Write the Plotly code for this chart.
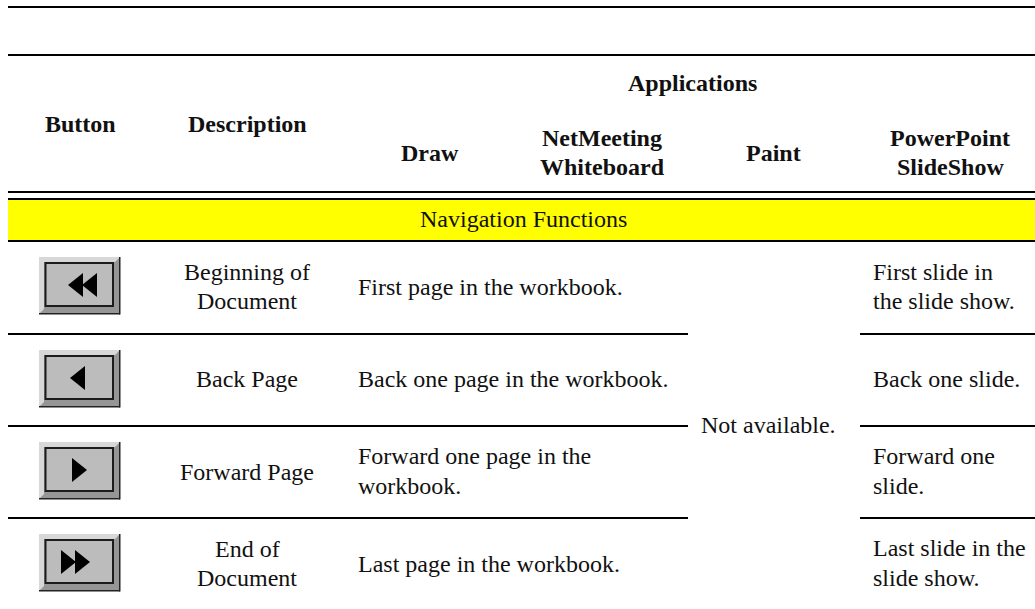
import plotly.graph_objects as go

W, H = 1035, 609
FONT = "Liberation Serif"
SIZE = 24

# Header and body text: (text, x, y, anchor)
header_labels = [
    ("Applications", 692, 83, "center"), ("Button", 80, 124, "center"), ("Description", 247, 124, "center"),
    ("Draw", 430, 153, "center"), ("NetMeeting", 602, 138, "center"), ("Whiteboard", 602, 167, "center"),
    ("Paint", 773, 153, "center"), ("PowerPoint", 950, 138, "center"), ("SlideShow", 950, 167, "center"),
]
section_label = ("Navigation Functions", 523, 219, "center")
description_labels = [
    ("Beginning of", 247, 272), ("Document", 247, 301), ("Back Page", 247, 379),
    ("Forward Page", 247, 472), ("End of", 247, 549), ("Document", 247, 578),
]
body_labels = [
    ("First page in the workbook.", 356, 287), ("Back one page in the workbook.", 356, 379),
    ("Forward one page in the", 356, 456), ("workbook.", 356, 486), ("Last page in the workbook.", 356, 564),
    ("Not available.", 699, 425),
    ("First slide in", 871, 272), ("the slide show.", 871, 301), ("Back one slide.", 871, 379),
    ("Forward one", 871, 456), ("slide.", 871, 486), ("Last slide in the", 871, 548), ("slide show.", 871, 578),
]

# Rule lines: (x0, x1, y, width)
full_rules = [(8, 1035, 7, 2), (8, 1035, 55, 2), (8, 1035, 192, 2), (8, 1035, 199, 2), (8, 1035, 241, 2)]
split_rules = [(8, 688, 334), (860, 1035, 334), (8, 688, 426), (860, 1035, 426), (8, 688, 518), (860, 1035, 518)]
band = (8, 1035, 200, 241)

# Buttons: top y of each, and direction/count of arrow heads
button_tops = [257, 350, 442, 534]
button_arrows = [(-1, 2), (-1, 1), (1, 1), (1, 2)]

fig = go.Figure()
shapes, anns = [], []


def rect(x0, y0, x1, y1, fill, line=None, lw=0):
    shapes.append(dict(type="rect", x0=x0, x1=x1, y0=y0, y1=y1, fillcolor=fill,
                       line=dict(color=line or fill, width=lw), layer="above"))


def text(t, x, y, anchor="center", bold=False):
    anns.append(dict(text=f"<b>{t}</b>" if bold else t, x=x, y=y, xref="x", yref="y", showarrow=False,
                     xanchor=anchor, yanchor="middle", font=dict(family=FONT, size=SIZE, color="#111111")))


rect(band[0], band[2], band[1], band[3], "#ffff00")
for x0, x1, y, w in full_rules:
    shapes.append(dict(type="line", x0=x0, x1=x1, y0=y, y1=y, line=dict(color="black", width=w), layer="above"))
for x0, x1, y in split_rules:
    shapes.append(dict(type="line", x0=x0, x1=x1, y0=y, y1=y, line=dict(color="black", width=2), layer="above"))

for top, (direction, count) in zip(button_tops, button_arrows):
    rect(39, top, 120, top + 57, "#969696")
    shapes.append(dict(type="path", path=f"M39,{top} L120,{top} L115,{top+5} L44,{top+5} L44,{top+52} L39,{top+57} Z",
                       fillcolor="#d8d8d8", line=dict(width=0), layer="above"))
    rect(39, top + 56, 120, top + 57.5, "#222222")
    rect(119, top, 120.5, top + 57.5, "#222222")
    rect(45.5, top + 6, 113, top + 49, "#bdbcbd", "#1c1c1c", 2)
    mid = top + 28
    for i in range(count):
        if count == 2:
            cx = 79 + direction * (-11 + 14 * i)
        else:
            cx = 79 if direction > 0 else 78
        tip = cx + direction * 8
        base = cx - direction * 7
        shapes.append(dict(type="path", path=f"M{base},{mid-12} L{tip},{mid} L{base},{mid+12} Z",
                           fillcolor="black", line=dict(width=0), layer="above"))

for t, x, y, a in header_labels:
    text(t, x, y, a, True)
text(*section_label)
for t, x, y in description_labels:
    text(t, x, y)
for t, x, y in body_labels:
    text(t, x, y, "left")

fig.add_trace(go.Scatter(x=[0, W], y=[0, H], mode="markers", marker=dict(opacity=0), hoverinfo="skip", showlegend=False))
fig.update_layout(width=W, height=H, margin=dict(l=0, r=0, t=0, b=0), paper_bgcolor="white", plot_bgcolor="white",
                  xaxis=dict(visible=False, range=[0, W], fixedrange=True),
                  yaxis=dict(visible=False, range=[H, 0], fixedrange=True),
                  shapes=shapes, annotations=anns, showlegend=False)
fig.write_html("out.html", config=dict(displayModeBar=False),
               post_script="document.body.style.margin='0';document.body.style.overflow='hidden';")
